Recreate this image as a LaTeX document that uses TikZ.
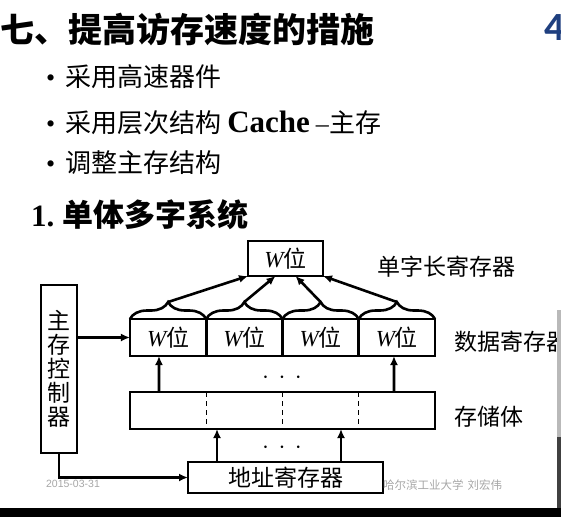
\documentclass[tikz,border=0pt]{standalone}
\usepackage{fontspec}
\usepackage{xcolor}
\usepackage{tikz}
\usetikzlibrary{arrows.meta,positioning,decorations.pathreplacing}

\setmainfont{Liberation Serif}
\newfontfamily\cjk{Noto Sans CJK SC}
\newfontfamily\footfont{Liberation Sans}
\newfontfamily\digitfont{Carlito}

\definecolor{slideblue}{HTML}{1F3F7F}
\definecolor{footgray}{HTML}{A6A6A6}

\begin{document}
\begin{tikzpicture}[x=1pt, y=-1pt,
    box/.style={rectangle, draw, line width=2.8pt, outer sep=0pt, inner sep=0pt, align=center, font=\cjk\fontsize{23}{24}\selectfont},
    wbox/.style={box, minimum width=76.25pt, minimum height=37pt},
    arrow/.style={-{Latex[length=9pt,width=8pt]}, line width=2.6pt},
    lbl/.style={anchor=west, inner sep=0pt, font=\cjk\fontsize{23}{24}\selectfont},
    item/.style={anchor=west, inner sep=0pt, font=\cjk\fontsize{26}{28}\selectfont},
    ubrace/.style={decorate, decoration={brace, amplitude=17pt}, line width=2.6pt},
    divider/.style={line width=1.3pt, dash pattern=on 5pt off 4pt},
    foot/.style={inner sep=0pt, text=footgray}
]
    \useasboundingbox (0,0) rectangle (561,517);
    \clip (0,0) rectangle (561,517);

    % Title
    \node[anchor=west, inner sep=0pt, font=\cjk\bfseries\fontsize{34}{36}\selectfont] (title) at (0,29) {七、提高访存速度的措施};
    \node[anchor=west, inner sep=0pt, text=slideblue, font=\digitfont\bfseries\fontsize{40}{40}\selectfont] (pagenum) at (544,28) {4};

    % Bullets
    \node[item] (item1) at (46,77) {{\rmfamily •}\hspace{10pt}采用高速器件};
    \node[item] (item2) at (46,123) {{\rmfamily •}\hspace{10pt}采用层次结构\hspace{6pt}{\rmfamily\bfseries\fontsize{31}{31}\selectfont Cache}\hspace{6pt}{\rmfamily –}\hspace{1pt}主存};
    \node[item] (item3) at (46,163) {{\rmfamily •}\hspace{10pt}调整主存结构};

    % Heading
    \node[anchor=west, inner sep=0pt, font=\bfseries\fontsize{31}{32}\selectfont] (heading) at (31,215) {1.\hspace{8pt}{\cjk 单体多字系统}};

    % Single word register
    \node[box, minimum width=75pt, minimum height=35pt] (wtop) at (285.5,258.5) {{\rmfamily\itshape W}位};
    \node[lbl] (lblword) at (377,267) {单字长寄存器};

    % Data register
    \node[wbox] (w1) at (168.1,337.5) {{\rmfamily\itshape W}位};
    \node[wbox, right=0pt of w1] (w2) {{\rmfamily\itshape W}位};
    \node[wbox, right=0pt of w2] (w3) {{\rmfamily\itshape W}位};
    \node[wbox, right=0pt of w3] (w4) {{\rmfamily\itshape W}位};
    \node[lbl] (lbldata) at (454,342) {数据寄存器};

    % Memory body
    \node[box, minimum width=305pt, minimum height=37pt] (store) at (282.5,410.5) {};
    \draw[divider] (w1.east |- store.north) -- (w1.east |- store.south);
    \draw[divider] (w2.east |- store.north) -- (w2.east |- store.south);
    \draw[divider] (w3.east |- store.north) -- (w3.east |- store.south);
    \node[lbl] (lblstore) at (454,417) {存储体};

    % Address register and controller
    \node[box, minimum width=195pt, minimum height=31pt] (addr) at (285.5,477.5) {地址寄存器};
    \node[box, minimum width=36pt, minimum height=168pt] (ctrl) at (59,369) {主\\存\\控\\制\\器};

    % Braces
    \draw[ubrace] (w1.north west) -- (w1.north east);
    \draw[ubrace] (w2.north west) -- (w2.north east);
    \draw[ubrace] (w3.north west) -- (w3.north east);
    \draw[ubrace] (w4.north west) -- (w4.north east);
    \coordinate (t1) at ([yshift=17pt]w1.north);
    \coordinate (t2) at ([yshift=17pt]w2.north);
    \coordinate (t3) at ([yshift=17pt]w3.north);
    \coordinate (t4) at ([yshift=17pt]w4.north);

    % Dots
    \node[font=\fontsize{24}{24}\selectfont] (dots1) at (282,378) {$\cdot$\hspace{9.5pt}$\cdot$\hspace{9.5pt}$\cdot$};
    \node[font=\fontsize{24}{24}\selectfont] (dots2) at (282,448) {$\cdot$\hspace{9.5pt}$\cdot$\hspace{9.5pt}$\cdot$};

    % Arrows
    \draw[arrow] (t1) -- (wtop.south west);
    \draw[arrow] (t2) -- ([xshift=-10pt]wtop.south);
    \draw[arrow] (t3) -- ([xshift=10pt]wtop.south);
    \draw[arrow] (t4) -- (wtop.south east);
    \draw[arrow] ([xshift=29pt]store.north west) -- ([xshift=29pt]w1.south west);
    \draw[arrow] ([xshift=-41pt]store.north east) -- ([xshift=-41pt]w4.south east);
    \coordinate (a1) at ([xshift=29pt]addr.north west);
    \coordinate (a2) at ([xshift=-42pt]addr.north east);
    \draw[arrow] (a1) -- (a1 |- store.south);
    \draw[arrow] (a2) -- (a2 |- store.south);
    \draw[arrow] (ctrl.east |- w1.west) -- (w1.west);
    \draw[arrow] (ctrl.south) |- (addr.west);

    % Footer
    \node[foot, font=\footfont\fontsize{10.5}{11}\selectfont] (date) at (73,484) {2015-03-31};
    \node[foot, anchor=west, font=\cjk\fontsize{11.5}{12}\selectfont] (school) at (383,485) {哈尔滨工业大学\hspace{4pt}刘宏伟};

    % Screen edges
    \fill[black] (0,508) rectangle (561,517);
    \fill[gray!55] (557,310) rectangle (561,437);
    \fill[black!75] (557,437) rectangle (561,508);
\end{tikzpicture}
\end{document}
